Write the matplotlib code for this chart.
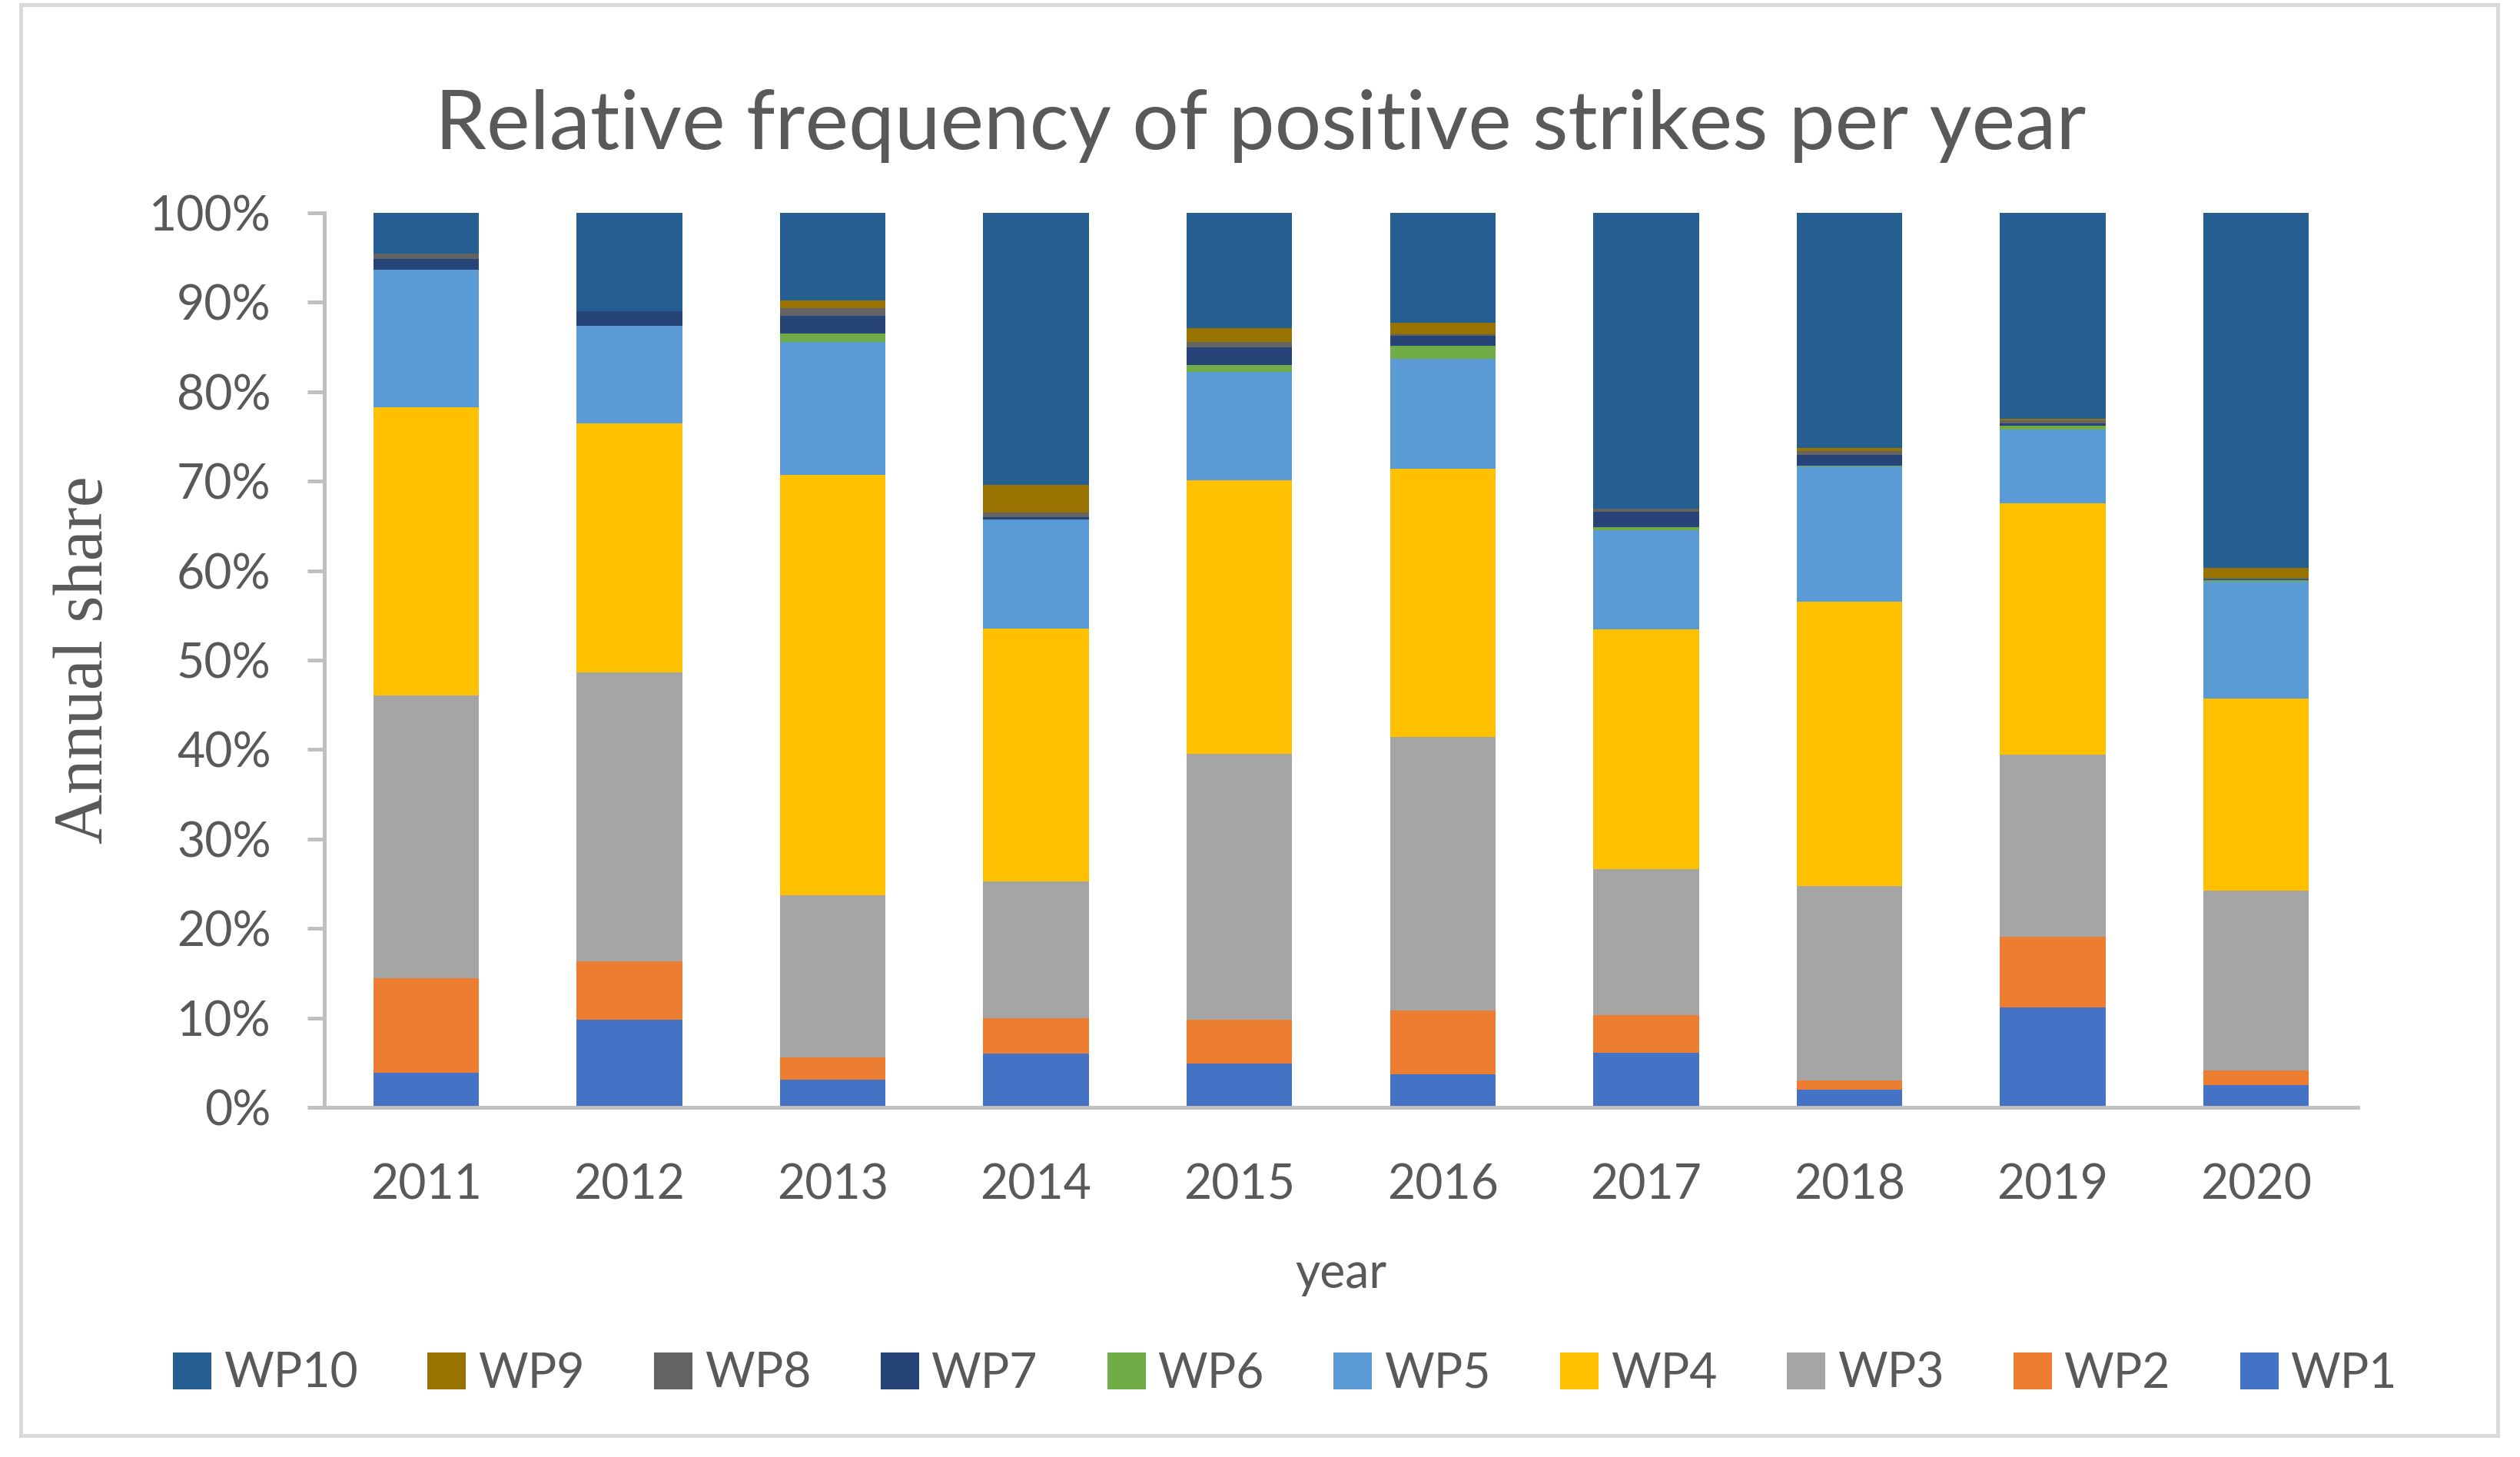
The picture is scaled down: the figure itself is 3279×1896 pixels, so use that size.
"""
Stacked 100% bar chart: relative frequency of positive strikes per year,
split into weather patterns WP1..WP10.
"""

import matplotlib
matplotlib.use("Agg")
import matplotlib.pyplot as plt
from matplotlib.patches import Patch, Rectangle
from matplotlib.ticker import PercentFormatter

YEARS = ["2011", "2012", "2013", "2014", "2015", "2016", "2017", "2018", "2019", "2020"]

# annual share per weather pattern, in percent
WP1 = [3.85, 9.83, 3.05, 6.04, 4.93, 3.73, 6.07, 1.99, 11.20, 2.48]
WP2 = [10.59, 6.47, 2.55, 3.93, 4.87, 7.12, 4.27, 1.03, 7.86, 1.62]
WP3 = [31.62, 32.33, 18.11, 15.29, 29.69, 30.52, 16.29, 21.72, 20.34, 20.13]
WP4 = [32.17, 27.80, 46.98, 28.28, 30.60, 30.06, 26.80, 31.80, 28.11, 21.47]
WP5 = [15.43, 10.97, 14.88, 12.15, 12.14, 12.23, 11.06, 15.09, 8.26, 13.02]
WP6 = [0.00, 0.00, 0.92, 0.00, 0.77, 1.48, 0.37, 0.14, 0.40, 0.20]
WP7 = [1.20, 1.60, 2.00, 0.25, 1.97, 1.12, 1.68, 1.20, 0.32, 0.14]
WP8 = [0.57, 0.00, 0.85, 0.55, 0.60, 0.17, 0.35, 0.43, 0.31, 0.14]
WP9 = [0.00, 0.00, 0.86, 3.14, 1.54, 1.28, 0.00, 0.29, 0.14, 1.14]
WP10 = [4.57, 11.00, 9.80, 30.37, 12.89, 12.29, 33.11, 26.31, 23.06, 39.66]

SERIES_NAMES = ["WP1", "WP2", "WP3", "WP4", "WP5", "WP6", "WP7", "WP8", "WP9", "WP10"]
SERIES = [WP1, WP2, WP3, WP4, WP5, WP6, WP7, WP8, WP9, WP10]
COLORS = ["#4472C4", "#ED7D31", "#A5A5A5", "#FFC000", "#5B9BD5",
          "#70AD47", "#264478", "#636363", "#997300", "#255E91"]

TEXT = "#595959"
AXIS = "#BFBFBF"
SANS = ["Lato", "DejaVu Sans"]
SERIF = ["Liberation Serif", "DejaVu Serif"]


def main() -> None:
    fig = plt.figure(figsize=(16.4, 9.48), dpi=200)
    W, H = 3280, 1896

    # outer chart border
    fig.patches.append(Rectangle((27 / W, 1 - 1868 / H), (3250 - 27) / W, (1868 - 6) / H,
                                 transform=fig.transFigure, fill=False,
                                 edgecolor="#D9D9D9", linewidth=1.8))

    ax = fig.add_axes([422 / W, 1 - 1441 / H, (3068 - 422) / W, (1441 - 277) / H])

    x = range(len(YEARS))
    bottom = [0.0] * len(YEARS)
    for name, vals, col in zip(SERIES_NAMES, SERIES, COLORS):
        ax.bar(x, vals, width=0.52, bottom=bottom, color=col, label=name, linewidth=0)
        bottom = [b + v for b, v in zip(bottom, vals)]

    ax.set_xlim(-0.5, len(YEARS) - 0.5)
    ax.set_ylim(0, 100)
    ax.set_yticks(range(0, 101, 10))
    ax.yaxis.set_major_formatter(PercentFormatter(decimals=0))
    ax.set_xticks(list(x))
    ax.set_xticklabels(YEARS)

    for side in ("top", "right"):
        ax.spines[side].set_visible(False)
    for side in ("left", "bottom"):
        ax.spines[side].set_color(AXIS)
        ax.spines[side].set_linewidth(1.75)

    ax.tick_params(axis="y", direction="out", length=8, width=1.75, color=AXIS,
                   pad=17, labelsize=22.5, labelcolor=TEXT)
    ax.tick_params(axis="x", length=0, pad=26, labelsize=22.5, labelcolor=TEXT)
    for lab in ax.get_xticklabels() + ax.get_yticklabels():
        lab.set_family(SANS)

    fig.text(0.5, 1 - 164 / H, "Relative frequency of positive strikes per year",
             ha="center", va="center", fontsize=38.5, color=TEXT, family=SANS)
    fig.text(1745 / W, 1 - 1658 / H, "year", ha="center", va="center",
             fontsize=22.5, color=TEXT, family=SANS)
    fig.text(111 / W, 1 - 859 / H, "Annual share", ha="center", va="center",
             rotation=90, fontsize=32.5, color=TEXT, family=SERIF)

    handles = [Patch(facecolor=c, edgecolor="none", label=n)
               for n, c in zip(SERIES_NAMES[::-1], COLORS[::-1])]
    leg = fig.legend(handles=handles, loc="center", bbox_to_anchor=(1672 / W, 1 - 1788 / H),
                     ncol=10, frameon=False, handlelength=0.8,
                     handleheight=0.8, handletextpad=0.25, columnspacing=1.45,
                     prop={"family": SANS, "size": 22.5})
    for t in leg.get_texts():
        t.set_color(TEXT)

    fig.savefig("out.png", dpi=200)
    plt.close(fig)


if __name__ == "__main__":
    main()
